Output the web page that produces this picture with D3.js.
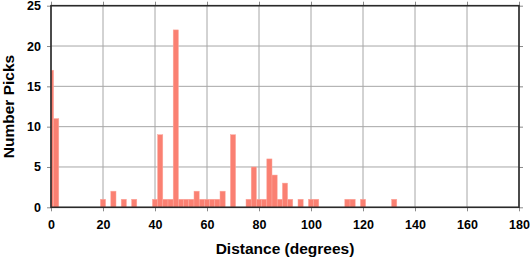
<!DOCTYPE html>
<html>
<head>
<meta charset="utf-8">
<script src="https://cdn.jsdelivr.net/npm/d3@7"></script>
<style>
html,body{margin:0;padding:0;background:#fff;}
svg{display:block;}
text{font-family:"Liberation Sans",Arial,Helvetica,sans-serif;font-weight:bold;fill:#000;}
</style>
</head>
<body>
<svg id="chart" width="530" height="258"></svg>
<script>
// Histogram bins (centre, degrees) and counts
const binCenters = [0,2,20,24,28,32,40,42,44,46,48,50,52,54,56,58,60,62,64,66,70,76,78,80,82,84,86,88,90,92,96,100,102,114,116,120,132];
const counts     = [17,11,1,2,1,1,1,9,1,1,22,1,1,1,2,1,1,1,1,2,9,1,5,1,1,6,4,1,3,1,1,1,1,1,1,1,1];
const binWidth = 2;
const xTicks = [0,20,40,60,80,100,120,140,160,180];
const yTicks = [0,5,10,15,20,25];
const xTitle = "Distance (degrees)";
const yTitle = "Number Picks";

const svg = d3.select("#chart");
const L = 51, R = 519, T = 5.7, B = 207.3;
const x = d3.scaleLinear().domain([0,180]).range([L,R]);
const y = d3.scaleLinear().domain([0,25]).range([B,T]);

// gridlines
const g = svg.append("g");
g.selectAll("line.vx").data(xTicks).join("line")
  .attr("x1",d=>x(d)).attr("x2",d=>x(d)).attr("y1",T).attr("y2",B)
  .attr("stroke","#a6a6a6").attr("stroke-width",1);
g.selectAll("line.hy").data(yTicks).join("line")
  .attr("y1",d=>y(d)).attr("y2",d=>y(d)).attr("x1",L).attr("x2",R)
  .attr("stroke","#a6a6a6").attr("stroke-width",1);

// bars
const data = binCenters.map((c,i)=>({c, n:counts[i]}));
svg.append("g").selectAll("rect").data(data).join("rect")
  .attr("x",d=>x(Math.max(0,d.c-binWidth/2)))
  .attr("width",d=>x(Math.min(180,d.c+binWidth/2))-x(Math.max(0,d.c-binWidth/2)))
  .attr("y",d=>y(d.n))
  .attr("height",d=>y(0)-y(d.n))
  .attr("fill","#fa8072")
  .attr("stroke","#fca89e").attr("stroke-width",0.5);

// axes (ticks outward on all four sides)
const tickStyle = sel => {
  sel.select(".domain").remove();
  sel.selectAll(".tick line").attr("stroke","#8a8a8a").attr("stroke-width",1);
};
const bottom = svg.append("g").attr("transform",`translate(0,${B})`)
  .call(d3.axisBottom(x).tickValues(xTicks).tickSize(4).tickPadding(9).tickFormat(d3.format("d")));
tickStyle(bottom);
bottom.selectAll("text").attr("font-size",12.5);
svg.append("g").attr("transform",`translate(0,${T})`)
  .call(d3.axisTop(x).tickValues(xTicks).tickSize(4).tickFormat(""))
  .call(tickStyle);
const left = svg.append("g").attr("transform",`translate(${L},0)`)
  .call(d3.axisLeft(y).tickValues(yTicks).tickSize(4).tickPadding(6).tickFormat(d3.format("d")));
tickStyle(left);
left.selectAll("text").attr("font-size",12.5);
svg.append("g").attr("transform",`translate(${R},0)`)
  .call(d3.axisRight(y).tickValues(yTicks).tickSize(4).tickFormat(""))
  .call(tickStyle);
svg.selectAll(".tick text").attr("font-family","Liberation Sans, Arial, sans-serif").attr("font-weight","bold").attr("fill","#000");

// frame
svg.append("rect").attr("x",L).attr("y",T).attr("width",R-L).attr("height",B-T)
  .attr("fill","none").attr("stroke","#2a2a2a").attr("stroke-width",1.6);

// titles
svg.append("text").attr("x",(L+R)/2).attr("y",254).attr("text-anchor","middle")
  .attr("font-size",15.5).text(xTitle);
svg.append("text").attr("transform",`translate(13.5,${(T+B)/2}) rotate(-90)`)
  .attr("text-anchor","middle").attr("font-size",15.5).text(yTitle);
</script>
</body>
</html>
